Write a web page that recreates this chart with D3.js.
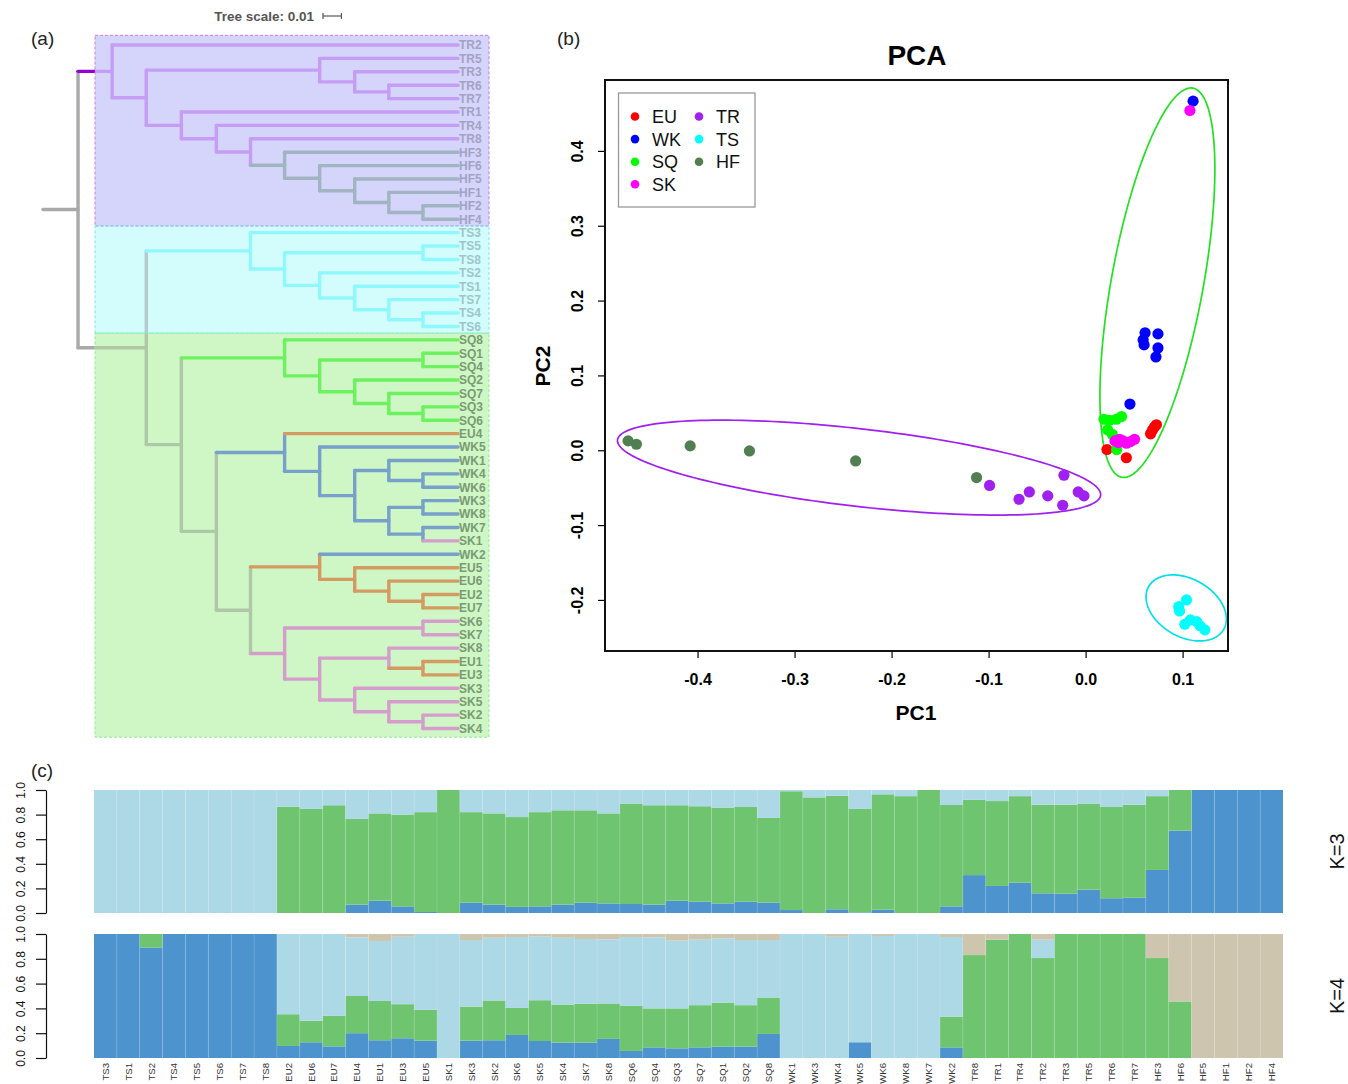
<!DOCTYPE html>
<html>
<head>
<meta charset="utf-8">
<script src="https://cdn.jsdelivr.net/npm/d3@7"></script>
<style>
  body { margin: 0; background: #fff; }
  svg { font-family: "Liberation Sans", Arial, Helvetica, sans-serif; }
</style>
</head>
<body>
<svg id="fig" width="1348" height="1084"></svg>
<script>
// ---------- (a) tree: internal nodes [id, parent, distance from root, lineage] ----------
const treeNodes = [
  ["n0", null, 0.000, "base"],
  ["n1", "n0", 0.019, "base"],
  ["n2", "n1", 0.0375, "TR"],
  ["n3", "n2", 0.056, "TR"],
  ["n4", "n3", 0.150, "TR"],
  ["n5", "n4", 0.169, "TR"],
  ["n6", "n5", 0.1875, "TR"],
  ["n7", "n3", 0.075, "TR"],
  ["n8", "n7", 0.094, "TR"],
  ["n9", "n8", 0.1125, "TR"],
  ["n10", "n9", 0.131, "HF"],
  ["n11", "n10", 0.150, "HF"],
  ["n12", "n11", 0.169, "HF"],
  ["n13", "n12", 0.1875, "HF"],
  ["n14", "n13", 0.206, "HF"],
  ["n15", "n1", 0.056, "base"],
  ["n16", "n15", 0.1125, "TS"],
  ["n17", "n16", 0.131, "TS"],
  ["n18", "n17", 0.206, "TS"],
  ["n19", "n17", 0.150, "TS"],
  ["n20", "n19", 0.169, "TS"],
  ["n21", "n20", 0.1875, "TS"],
  ["n22", "n21", 0.206, "TS"],
  ["n23", "n15", 0.075, "base"],
  ["n24", "n23", 0.131, "SQ"],
  ["n25", "n24", 0.150, "SQ"],
  ["n26", "n25", 0.206, "SQ"],
  ["n27", "n25", 0.169, "SQ"],
  ["n28", "n27", 0.1875, "SQ"],
  ["n29", "n28", 0.206, "SQ"],
  ["n30", "n23", 0.094, "base"],
  ["n31", "n30", 0.131, "WK"],
  ["n32", "n31", 0.150, "WK"],
  ["n33", "n32", 0.169, "WK"],
  ["n34", "n33", 0.1875, "WK"],
  ["n35", "n34", 0.206, "WK"],
  ["n36", "n33", 0.1875, "WK"],
  ["n37", "n36", 0.206, "WK"],
  ["n38", "n36", 0.206, "WK"],
  ["n39", "n30", 0.1125, "base"],
  ["n40", "n39", 0.150, "EU"],
  ["n41", "n40", 0.169, "EU"],
  ["n42", "n41", 0.1875, "EU"],
  ["n43", "n42", 0.206, "EU"],
  ["n44", "n39", 0.131, "SK"],
  ["n45", "n44", 0.206, "SK"],
  ["n46", "n44", 0.150, "SK"],
  ["n47", "n46", 0.1875, "SK"],
  ["n48", "n47", 0.206, "EU"],
  ["n49", "n46", 0.169, "SK"],
  ["n50", "n49", 0.1875, "SK"],
  ["n51", "n50", 0.206, "SK"]
];
// leaves, top to bottom: [label, parent]
const treeLeaves = [
  ["TR2","n2"],["TR5","n4"],["TR3","n5"],["TR6","n6"],["TR7","n6"],
  ["TR1","n7"],["TR4","n8"],["TR8","n9"],["HF3","n10"],["HF6","n11"],
  ["HF5","n12"],["HF1","n13"],["HF2","n14"],["HF4","n14"],
  ["TS3","n16"],["TS5","n18"],["TS8","n18"],["TS2","n19"],["TS1","n20"],
  ["TS7","n21"],["TS4","n22"],["TS6","n22"],
  ["SQ8","n24"],["SQ1","n26"],["SQ4","n26"],["SQ2","n27"],["SQ7","n28"],
  ["SQ3","n29"],["SQ6","n29"],
  ["EU4","n31"],["WK5","n32"],["WK1","n34"],["WK4","n35"],["WK6","n35"],
  ["WK3","n37"],["WK8","n37"],["WK7","n38"],["SK1","n38"],
  ["WK2","n40"],["EU5","n41"],["EU6","n42"],["EU2","n43"],["EU7","n43"],
  ["SK6","n45"],["SK7","n45"],["SK8","n47"],["EU1","n48"],["EU3","n48"],
  ["SK3","n49"],["SK5","n50"],["SK2","n51"],["SK4","n51"]
];
const leafDepth = 0.225;
const treeScaleValue = 0.01;
// shaded clades: first and last leaf
const cladeBoxes = [["TR2","HF4"],["TS3","TS6"],["SQ8","SK4"]];

// ---------- (b) PCA ----------
const pcaGroups = ["EU","WK","SQ","SK","TR","TS","HF"];
// [group, PC1, PC2]
const pcaPoints = [
  ["EU",0.022,0.001],["EU",0.042,-0.010],["EU",0.035,0.012],["EU",0.067,0.022],
  ["EU",0.069,0.027],["EU",0.071,0.031],["EU",0.073,0.034],
  ["WK",0.0593,0.1475],["WK",0.0613,0.157],["WK",0.0603,0.1408],["WK",0.0746,0.1555],
  ["WK",0.0746,0.1367],["WK",0.0725,0.1247],["WK",0.0457,0.0617],["WK",0.1108,0.4665],
  ["SQ",0.019,0.0414],["SQ",0.0244,0.0401],["SQ",0.0316,0.0414],["SQ",0.037,0.045],
  ["SQ",0.0227,0.0272],["SQ",0.0274,0.0214],["SQ",0.032,0.0009],
  ["SK",0.0303,0.0125],["SK",0.035,0.0147],["SK",0.0387,0.0125],["SK",0.042,0.0094],
  ["SK",0.0463,0.0116],["SK",0.0505,0.0147],["SK",0.0337,0.0102],["SK",0.1075,0.454],
  ["TR",-0.099,-0.047],["TR",-0.0686,-0.0655],["TR",-0.058,-0.0557],["TR",-0.039,-0.061],
  ["TR",-0.0236,-0.0735],["TR",-0.0223,-0.0334],["TR",-0.0076,-0.0557],["TR",-0.0017,-0.061],
  ["TS",0.096,-0.209],["TS",0.104,-0.200],["TS",0.0968,-0.2147],["TS",0.1023,-0.2325],
  ["TS",0.108,-0.2267],["TS",0.1145,-0.229],["TS",0.118,-0.2347],["TS",0.123,-0.240],
  ["HF",-0.4716,0.0125],["HF",-0.463,0.008],["HF",-0.4076,0.0058],["HF",-0.3465,-0.0009],
  ["HF",-0.237,-0.0143],["HF",-0.1124,-0.0365]
];
// [group, centre PC1, centre PC2, axis u (PC1, PC2), axis v (PC1, PC2)]
const pcaEllipses = [
  ["SQ", 0.074, 0.2239, 0.0366, 0.260, 0.0466, -0.0111],
  ["TR", -0.2335, -0.0232, 0.249, -0.037, -0.0045, -0.0515],
  ["TS", 0.1037, -0.2107, 0.0414, -0.0147, 0.0, -0.0416]
];
const pcaTicksX = [-0.4,-0.3,-0.2,-0.1,0.0,0.1];
const pcaTicksY = [-0.2,-0.1,0.0,0.1,0.2,0.3,0.4];

// ---------- (c) admixture ----------
const samples = ["TS3","TS1","TS2","TS4","TS5","TS6","TS7","TS8","EU2","EU6","EU7","EU4","EU1","EU3","EU5",
  "SK1","SK3","SK2","SK6","SK5","SK4","SK7","SK8","SQ6","SQ4","SQ3","SQ7","SQ1","SQ2","SQ8",
  "WK1","WK3","WK4","WK5","WK6","WK8","WK7","WK2","TR8","TR1","TR4","TR2","TR3","TR5","TR6","TR7",
  "HF3","HF6","HF5","HF1","HF2","HF4"];
const k3Blue = [0,0,0,0,0,0,0,0, 0,0,0,0.068,0.10,0.054,0.008, 0, 0.084,0.068,0.05,0.054,0.068,0.084,0.078,
  0.073,0.068,0.10,0.092,0.078,0.092,0.084, 0.024,0,0.03,0.005,0.027,0,0,0.054,
  0.308,0.22,0.246,0.16,0.157,0.19,0.12,0.124, 0.35,0.67,1,1,1,1];
const k3Green = [0,0,0,0,0,0,0,0, 0.865,0.846,0.876,0.697,0.71,0.746,0.812, 1, 0.736,0.742,0.73,0.766,0.767,0.751,0.732,
  0.817,0.808,0.776,0.776,0.779,0.770,0.689, 0.966,0.94,0.924,0.841,0.938,0.95,1,0.824,
  0.612,0.69,0.704,0.72,0.723,0.70,0.742,0.756, 0.60,0.33,0,0,0,0];
const k3Light = [1,1,1,1,1,1,1,1, 0.135,0.154,0.124,0.235,0.19,0.20,0.18, 0, 0.18,0.19,0.22,0.18,0.165,0.165,0.19,
  0.11,0.124,0.124,0.132,0.143,0.138,0.227, 0.01,0.06,0.046,0.154,0.035,0.05,0,0.122,
  0.08,0.09,0.05,0.12,0.12,0.11,0.138,0.12, 0.05,0,0,0,0,0];
const k4Blue = [1,1,0.892,1,1,1,1,1, 0.097,0.127,0.094,0.20,0.143,0.159,0.14, 0, 0.14,0.143,0.186,0.137,0.124,0.124,0.154,
  0.057,0.086,0.078,0.086,0.092,0.092,0.194, 0,0,0,0.127,0,0,0,0.086,
  0,0,0,0,0,0,0,0, 0,0,0,0,0,0];
const k4Green = [0,0,0.108,0,0,0,0,0, 0.256,0.173,0.248,0.30,0.317,0.275,0.248, 0, 0.275,0.321,0.218,0.329,0.307,0.313,0.286,
  0.363,0.314,0.322,0.34,0.355,0.334,0.294, 0,0,0,0,0,0,0,0.248,
  0.83,0.954,1,0.806,1,1,1,1, 0.806,0.456,0,0,0,0];
const k4Light = [0,0,0,0,0,0,0,0, 0.647,0.70,0.658,0.473,0.483,0.544,0.612, 1, 0.536,0.506,0.572,0.515,0.539,0.523,0.517,
  0.556,0.573,0.546,0.528,0.518,0.525,0.463, 1,1,0.978,0.873,0.984,1,1,0.642,
  0,0,0,0.148,0,0,0,0, 0,0,0,0,0,0];
const k4Tan = [0,0,0,0,0,0,0,0, 0,0,0,0.027,0.057,0.022,0, 0, 0.049,0.03,0.024,0.019,0.03,0.04,0.043,
  0.024,0.027,0.054,0.046,0.035,0.049,0.049, 0,0,0.022,0,0.016,0,0,0.024,
  0.17,0.046,0,0.046,0,0,0,0, 0.194,0.544,1,1,1,1];
const yTicksBar = [0,0.2,0.4,0.6,0.8,1.0];

// ================= drawing =================
const svg = d3.select("#fig");

// panel letters
svg.selectAll("text.panel").data([["(a)",31,45],["(b)",557,45],["(c)",31,777]])
  .enter().append("text").attr("class","panel")
  .attr("x", d => d[1]).attr("y", d => d[2])
  .attr("font-size", 19).attr("fill", "#222").text(d => d[0]);

// ---------- tree ----------
const innerColor = {base:"#6c6c6c", TR:"#c59df5", HF:"#a0b4c2", TS:"#8ff8fd",
                    SQ:"#6df25f", WK:"#77a0cb", EU:"#d39a62", SK:"#d59dcb"};
const outerColor = {base:"#a9a9a9", TR:"#9400d3"};
const boxStyle = [
  {fill:"#d5d5fc", stroke:"#c87ae8", label:"#a2a2c4"},
  {fill:"#d3fcfc", stroke:"#78e6ec", label:"#9dc6c9"},
  {fill:"#cff7c5", stroke:"#8fe89b", label:"#7a9a73"}
];
const boxLeft = 95, boxRight = 489;

const xTree = d3.scaleLinear().domain([0, leafDepth]).range([43, 458]);
const yLeaf = d3.scalePoint().domain(treeLeaves.map(d => d[0])).range([45, 728.5]);
const step = yLeaf.step();

const rows = treeNodes.map(d => ({id:d[0], parent:d[1], depth:d[2], group:d[3]}))
  .concat(treeLeaves.map(d => ({id:d[0], parent:d[1], depth:leafDepth, group:d[0].slice(0,2), leaf:true})));
const root = d3.stratify().id(d => d.id).parentId(d => d.parent)(rows);
root.eachAfter(n => {
  n.px = xTree(n.data.depth);
  n.py = n.children
    ? (d3.min(n.children, c => c.py) + d3.max(n.children, c => c.py)) / 2
    : yLeaf(n.id);
});

const segs = [];
root.each(n => {
  if (n.parent) segs.push({x1:n.parent.px, x2:n.px, y1:n.py, y2:n.py, g:n.data.group});
  if (n.children && n.children.length > 1)
    segs.push({x1:n.px, x2:n.px, y1:d3.min(n.children, c => c.py), y2:d3.max(n.children, c => c.py), g:n.data.group});
});

const defs = svg.append("defs");
defs.append("clipPath").attr("id","clipOut").append("rect")
  .attr("x",0).attr("y",0).attr("width",boxLeft).attr("height",760);
defs.append("clipPath").attr("id","clipIn").append("rect")
  .attr("x",boxLeft).attr("y",0).attr("width",500).attr("height",760);

const tree = svg.append("g");

// clade shading
const boxes = cladeBoxes.map((b, i) => ({
  y0: yLeaf(b[0]) - step/2 - (i === 0 ? 3 : 0),
  y1: yLeaf(b[1]) + step/2 + (i === cladeBoxes.length - 1 ? 2 : 0),
  s: boxStyle[i], first: b[0], last: b[1]
}));
tree.selectAll("rect.box").data(boxes).enter().append("rect")
  .attr("x", boxLeft).attr("width", boxRight - boxLeft)
  .attr("y", d => d.y0).attr("height", d => d.y1 - d.y0)
  .attr("fill", d => d.s.fill);

function drawSegs(sel, list, colorFn) {
  sel.selectAll("line").data(list).enter().append("line")
    .attr("x1", d => d.x1).attr("x2", d => d.x2)
    .attr("y1", d => d.y1).attr("y2", d => d.y2)
    .attr("stroke", colorFn)
    .attr("stroke-width", 3.4)
    .attr("stroke-linecap", "round");
}
// branches left of the shaded boxes
drawSegs(tree.append("g").attr("clip-path","url(#clipOut)"), segs,
  d => outerColor[d.g] || innerColor[d.g]);
// branches inside the boxes
const inside = tree.append("g").attr("clip-path","url(#clipIn)");
drawSegs(inside.append("g").attr("opacity", 0.33), segs.filter(d => d.g === "base"), d => innerColor.base);
drawSegs(inside.append("g"), segs.filter(d => d.g !== "base"), d => innerColor[d.g]);

// dashed box outlines
tree.selectAll("rect.boxline").data(boxes).enter().append("rect")
  .attr("x", boxLeft).attr("width", boxRight - boxLeft)
  .attr("y", d => d.y0).attr("height", d => d.y1 - d.y0)
  .attr("fill", "none").attr("stroke", d => d.s.stroke)
  .attr("stroke-width", 1).attr("stroke-dasharray", "3,2");

// leaf labels
const leafBox = name => boxes.find(b => yLeaf(name) >= yLeaf(b.first) && yLeaf(name) <= yLeaf(b.last));
tree.selectAll("text.leaf").data(treeLeaves).enter().append("text")
  .attr("x", xTree(leafDepth) + 1).attr("y", d => yLeaf(d[0]) + 4.3)
  .attr("font-size", 12).attr("font-weight", "bold")
  .attr("fill", d => leafBox(d[0]).s.label)
  .text(d => d[0]);

// tree scale
const scaleLen = xTree(treeScaleValue) - xTree(0);
svg.append("text").attr("x", 314).attr("y", 21).attr("text-anchor","end")
  .attr("font-size", 13.5).attr("font-weight","bold").attr("fill","#555")
  .text("Tree scale: " + treeScaleValue);
const sb = svg.append("g").attr("stroke","#555").attr("stroke-width",1.2);
sb.append("line").attr("x1",323).attr("x2",323+scaleLen).attr("y1",16).attr("y2",16);
sb.append("line").attr("x1",323).attr("x2",323).attr("y1",13).attr("y2",19);
sb.append("line").attr("x1",323+scaleLen).attr("x2",323+scaleLen).attr("y1",13).attr("y2",19);

// ---------- PCA ----------
const pcaColor = {EU:"#ff0000", WK:"#0000ff", SQ:"#00ff00", SK:"#ff00ff", TR:"#a020f0", TS:"#00ffff", HF:"#527f52"};
const ellColor = {SQ:"#22e022", TR:"#a020f0", TS:"#00e0ea"};
const pl = {left:605, right:1228, top:80, bottom:651};

function rRange(vals) {          // R style 4% extension
  const e = d3.extent(vals), p = (e[1] - e[0]) * 0.04;
  return [e[0] - p, e[1] + p];
}
const xPca = d3.scaleLinear().domain(rRange(pcaPoints.map(d => d[1]))).range([pl.left, pl.right]);
const yPca = d3.scaleLinear().domain(rRange(pcaPoints.map(d => d[2]))).range([pl.bottom, pl.top]);

const pca = svg.append("g");
pca.append("text").attr("x", 917).attr("y", 65).attr("text-anchor","middle")
  .attr("font-size", 28).attr("font-weight","bold").text("PCA");

const fmt = d => d.toFixed(1);
const xAx = pca.append("g").attr("transform", `translate(0,${pl.bottom})`)
  .call(d3.axisBottom(xPca).tickValues(pcaTicksX).tickFormat(fmt).tickSize(7).tickSizeOuter(0).tickPadding(16));
xAx.select(".domain").remove();
xAx.selectAll("line").attr("stroke","#000").attr("stroke-width",1.2);
xAx.selectAll("text").attr("font-size",16).attr("font-weight","bold").attr("fill","#000")
  .attr("font-family",'"Liberation Sans", Arial, sans-serif');

const yAx = pca.append("g").attr("transform", `translate(${pl.left},0)`)
  .call(d3.axisLeft(yPca).tickValues(pcaTicksY).tickFormat(fmt).tickSize(7).tickSizeOuter(0));
yAx.select(".domain").remove();
yAx.selectAll("line").attr("stroke","#000").attr("stroke-width",1.2);
yAx.selectAll("text").attr("transform","rotate(-90)").attr("x",0).attr("y",-22).attr("dy",0)
  .attr("text-anchor","middle").attr("font-size",16).attr("font-weight","bold").attr("fill","#000")
  .attr("font-family",'"Liberation Sans", Arial, sans-serif');

pca.append("text").attr("x", 916).attr("y", 720).attr("text-anchor","middle")
  .attr("font-size", 21).attr("font-weight","bold").text("PC1");
pca.append("text").attr("transform","translate(550,366) rotate(-90)").attr("text-anchor","middle")
  .attr("font-size", 21).attr("font-weight","bold").text("PC2");

// ellipses
const tSteps = d3.range(0, 2 * Math.PI + 0.001, Math.PI / 90);
const ellLine = d3.line();
pca.selectAll("path.ell").data(pcaEllipses).enter().append("path")
  .attr("d", e => ellLine(tSteps.map(t => [
    xPca(e[1] + e[3] * Math.cos(t) + e[5] * Math.sin(t)),
    yPca(e[2] + e[4] * Math.cos(t) + e[6] * Math.sin(t))
  ])) + "Z")
  .attr("fill","none").attr("stroke", e => ellColor[e[0]]).attr("stroke-width",1.7);

pca.selectAll("circle.pt").data(pcaPoints).enter().append("circle")
  .attr("cx", d => xPca(d[1])).attr("cy", d => yPca(d[2])).attr("r", 5.6)
  .attr("fill", d => pcaColor[d[0]]);

pca.append("rect").attr("x", pl.left).attr("y", pl.top)
  .attr("width", pl.right - pl.left).attr("height", pl.bottom - pl.top)
  .attr("fill","none").attr("stroke","#111").attr("stroke-width",2);

// legend
const lg = pca.append("g");
lg.append("rect").attr("x",618.5).attr("y",93).attr("width",136.5).attr("height",114)
  .attr("fill","#fff").attr("stroke","#999").attr("stroke-width",1.3);
const lgItems = lg.selectAll("g.item").data(pcaGroups).enter().append("g")
  .attr("transform", (d, i) => `translate(${635 + Math.floor(i / 4) * 64},${116.5 + (i % 4) * 22.6})`);
lgItems.append("circle").attr("r", 4.3).attr("fill", d => pcaColor[d]);
lgItems.append("text").attr("x", 17).attr("y", 6.5).attr("font-size", 18).attr("fill","#111").text(d => d);

// ---------- admixture bars ----------
const barColor = {blue:"#4d93cd", green:"#6fc46f", light:"#add8e6", tan:"#cdc5ae"};
const xBar = d3.scaleBand().domain(samples).range([94, 1283]);

const panels = [
  {label:"K=3", y0:913, y1:790, keys:["blue","green","light"],
   rows: samples.map((s, i) => ({s, blue:k3Blue[i], green:k3Green[i], light:k3Light[i]}))},
  {label:"K=4", y0:1058, y1:934, keys:["blue","green","light","tan"],
   rows: samples.map((s, i) => ({s, blue:k4Blue[i], green:k4Green[i], light:k4Light[i], tan:k4Tan[i]}))}
];

panels.forEach(p => {
  const y = d3.scaleLinear().domain([0, 1]).range([p.y0, p.y1]);
  const series = d3.stack().keys(p.keys)(p.rows);
  const g = svg.append("g");
  g.selectAll("g.layer").data(series).enter().append("g")
    .attr("fill", s => barColor[s.key])
    .selectAll("rect").data(s => s).enter().append("rect")
    .attr("x", d => xBar(d.data.s)).attr("width", xBar.bandwidth())
    .attr("y", d => y(d[1])).attr("height", d => Math.max(0, y(d[0]) - y(d[1])));
  // faint separators between samples
  g.selectAll("line.sep").data(samples.slice(1)).enter().append("line")
    .attr("x1", d => xBar(d)).attr("x2", d => xBar(d))
    .attr("y1", p.y1).attr("y2", p.y0)
    .attr("stroke","#fff").attr("stroke-opacity",0.18).attr("stroke-width",0.8);

  const ax = g.append("g").attr("transform","translate(46,0)")
    .call(d3.axisLeft(y).tickValues(yTicksBar).tickFormat(fmt).tickSize(10).tickSizeOuter(0));
  ax.select(".domain").attr("stroke","#111").attr("stroke-width",1.2);
  ax.selectAll("line").attr("stroke","#111").attr("stroke-width",1.2);
  ax.selectAll("text").attr("transform","rotate(-90)").attr("x",0).attr("y",-21).attr("dy",0)
    .attr("text-anchor","middle").attr("font-size",12).attr("fill","#111")
    .attr("font-family",'"Liberation Sans", Arial, sans-serif');

  g.append("text").attr("transform", `translate(1344,${(p.y0 + p.y1) / 2}) rotate(-90)`)
    .attr("text-anchor","middle").attr("font-size",20).attr("fill","#111").text(p.label);
});

// sample labels
svg.selectAll("text.sample").data(samples).enter().append("text")
  .attr("transform", d => `translate(${xBar(d) + xBar.bandwidth() / 2 + 3.4},1063) rotate(-90)`)
  .attr("text-anchor","end").attr("font-size",9.6).attr("fill","#333").text(d => d);
</script>
</body>
</html>
